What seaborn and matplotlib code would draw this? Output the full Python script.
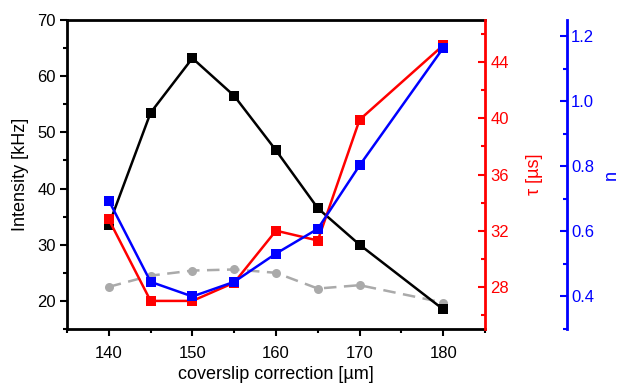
import matplotlib
matplotlib.use("Agg")
import matplotlib.pyplot as plt
import seaborn as sns
import pandas as pd
from matplotlib.ticker import MultipleLocator

sns.set_theme(style="white")
plt.rcParams['font.family'] = ['Liberation Sans', 'DejaVu Sans']

coverslip = [140, 145, 150, 155, 160, 165, 170, 180]
intensity = [33.5, 53.5, 63.2, 56.5, 46.8, 36.5, 30.0, 18.5]
background = [22.5, 24.5, 25.4, 25.6, 25.0, 22.2, 22.8, 19.7]
tau = [32.8, 27.0, 27.0, 28.3, 32.0, 31.3, 39.9, 45.2]
n_vals = [0.695, 0.445, 0.40, 0.445, 0.532, 0.608, 0.803, 1.164]

df = pd.DataFrame({"x": coverslip, "I": intensity, "bg": background,
                   "tau": tau, "n": n_vals})

fig = plt.figure(figsize=(6.19, 3.83), dpi=100)
ax = fig.add_axes([67/619, 1-329/383, (485-67)/619, (329-20)/383])
ax2 = ax.twinx()
ax3 = ax.twinx()
ax3.spines['right'].set_position(('axes', 1 + (567-485)/(485-67)))

sns.lineplot(data=df, x="x", y="bg", ax=ax, color="#aaaaaa", lw=1.8,
             marker="o", markersize=6.5, markeredgewidth=0,
             linestyle=(0, (5, 3)))
sns.lineplot(data=df, x="x", y="I", ax=ax, color="black", lw=1.8,
             marker="s", markersize=7, markeredgewidth=0)
sns.lineplot(data=df, x="x", y="tau", ax=ax2, color="#ff0000", lw=1.8,
             marker="s", markersize=7, markeredgewidth=0)
sns.lineplot(data=df, x="x", y="n", ax=ax3, color="#0000ff", lw=1.8,
             marker="s", markersize=7, markeredgewidth=0)

ax.set_xlim(135, 185)
ax.set_ylim(15, 70)
ax2.set_ylim(25, 47)
ax3.set_ylim(0.3, 1.25)

ax.xaxis.set_major_locator(MultipleLocator(10))
ax.xaxis.set_minor_locator(MultipleLocator(5))
ax.yaxis.set_major_locator(MultipleLocator(10))
ax.yaxis.set_minor_locator(MultipleLocator(5))
ax2.yaxis.set_major_locator(MultipleLocator(4))
ax2.yaxis.set_minor_locator(MultipleLocator(2))
ax3.yaxis.set_major_locator(MultipleLocator(0.2))
ax3.yaxis.set_minor_locator(MultipleLocator(0.1))
ax3.yaxis.set_major_formatter(matplotlib.ticker.FormatStrFormatter('%.1f'))

for a in (ax, ax2, ax3):
    for s in a.spines.values():
        s.set_linewidth(2)
ax.spines['top'].set_color('black')
ax.spines['left'].set_color('black')
ax.spines['bottom'].set_color('black')
ax2.spines['right'].set_color('#ff0000')
ax3.spines['right'].set_color('#0000ff')
for a in (ax2, ax3):
    a.spines['left'].set_visible(False)
    a.spines['top'].set_visible(False)
    a.spines['bottom'].set_visible(False)
ax.spines['right'].set_visible(False)

ax.tick_params(axis='both', which='major', direction='out', length=5, width=1.5,
               labelsize=12, colors='black', bottom=True, left=True, pad=3)
ax.tick_params(axis='both', which='minor', direction='out', length=3, width=1.5,
               bottom=True, left=True, colors='black')
ax.tick_params(axis='x', pad=7)
ax2.tick_params(axis='y', which='major', direction='in', length=5, width=1.5,
                labelsize=12, colors='#ff0000', right=True, pad=4)
ax2.tick_params(axis='y', which='minor', direction='in', length=3, width=1.5,
                colors='#ff0000', right=True)
ax3.tick_params(axis='y', which='major', direction='in', length=5, width=1.5,
                labelsize=12, colors='#0000ff', right=True, pad=3)
ax3.tick_params(axis='y', which='minor', direction='in', length=3, width=1.5,
                colors='#0000ff', right=True)

ax.set_xlabel("coverslip correction [µm]", fontsize=13, color='black', labelpad=4)
ax.set_ylabel("Intensity [kHz]", fontsize=13, color='black', labelpad=6)
ax2.set_ylabel("τ [µs]", fontsize=13, color='#ff0000', labelpad=12)
ax3.set_ylabel("n", fontsize=13, color='#0000ff', labelpad=6)

fig.savefig("out.png", dpi=100)
